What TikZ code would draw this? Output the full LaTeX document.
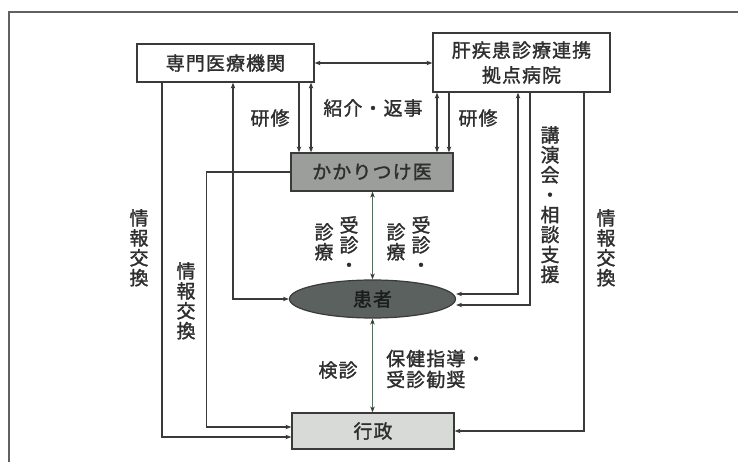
\documentclass[tikz,border=0pt]{standalone}
\usepackage{fontspec}
\setmainfont{Noto Sans CJK JP}[LetterSpace=6, FakeBold=1.5]
\usetikzlibrary{arrows.meta,shapes.geometric}
\definecolor{ink}{HTML}{3A3A3A}
\definecolor{txt}{HTML}{2E2E2E}
\definecolor{kakfill}{HTML}{9C9E9C}
\definecolor{kanfill}{HTML}{5A615E}
\definecolor{kantxt}{HTML}{1A1D1C}
\definecolor{gyofill}{HTML}{D8DAD8}
\definecolor{grn}{HTML}{3F7D55}
\tikzset{
  box/.style={draw=ink, line width=1.2bp, inner sep=0pt, text=txt, font=\fontsize{19}{25}\selectfont, align=center},
  lbl/.style={inner sep=0pt, text=txt, font=\fontsize{19}{20}\selectfont, align=center},
  vlbl/.style={inner sep=0pt, text=txt, font=\fontsize{19}{20}\selectfont, align=center, anchor=north},
  conn/.style={draw=ink, line width=1.1bp, -{Stealth[length=6bp,width=4.5bp]}},
  bconn/.style={draw=ink, line width=1.1bp, {Stealth[length=6bp,width=4.5bp]}-{Stealth[length=6bp,width=4.5bp]}},
  gconn/.style={draw=grn, line width=1.1bp, {Stealth[length=6bp,width=4.5bp,color=ink]}-{Stealth[length=6bp,width=4.5bp,color=ink]}}
}
\begin{document}
\begin{tikzpicture}[x=1bp,y=-1bp]
\useasboundingbox (0,0) rectangle (738,462);
\fill[white] (0,0) rectangle (738,462);
% frame
\draw[ink!80, line width=1.2bp] (9,462) -- (9,12) -- (738,12);

% nodes
\node[box, minimum width=177bp, minimum height=38bp] (senmon) at (225.5,63) {専門医療機関};
\node[box, minimum width=177bp, minimum height=59bp] (kyoten) at (521.5,62.5) {肝疾患診療連携\\拠点病院};
\node[box, fill=kakfill, minimum width=162bp, minimum height=38bp] (kakari) at (372,172) {かかりつけ医};
\node[ellipse, draw=ink, line width=1.2bp, fill=kanfill, inner sep=0pt,
      minimum width=166bp, minimum height=38bp] (kanja) at (372.5,299) {};
\node[lbl, text=kantxt] (kanjatxt) at (kanja.center) {患者};
\node[box, fill=gyofill, minimum width=162bp, minimum height=36bp] (gyosei) at (373,431) {行政};

% connectors
\draw[bconn] (senmon.east) -- (senmon.east -| kyoten.west);
\draw[conn] (299,0 |- senmon.south) -- (299,0 |- kakari.north);
\draw[bconn] (311,0 |- senmon.south) -- (311,0 |- kakari.north);
\draw[bconn] (437,0 |- kyoten.south) -- (437,0 |- kakari.north);
\draw[conn] (449,0 |- kyoten.south) -- (449,0 |- kakari.north);

\draw[conn] (162,0 |- senmon.south) |- ([yshift=-6bp]gyosei.west);
\draw[conn] (kakari.west) -| ([xshift=-85bp,yshift=4bp]gyosei.west) -- ([yshift=4bp]gyosei.west);
\draw[bconn] (233,0 |- senmon.south) |- (kanja.west);

\draw[bconn] (518,0 |- kyoten.south) |- ([yshift=5bp]kanja.east);
\draw[conn] (530,0 |- kyoten.south) |- ([yshift=-6bp]kanja.east);
\draw[conn] (584,0 |- kyoten.south) |- (gyosei.east);

\draw[gconn] (kakari.south -| kanja.north) -- (kanja.north);
\draw[gconn] (kanja.south) -- (kanja.south |- gyosei.north);

% labels
\node[lbl] (l1) at (270,118) {研修};
\node[lbl] (l2) at (373,108) {紹介・返事};
\node[lbl] (l3) at (478,118) {研修};
\node[vlbl] (l4) at (550,126) {講\\演\\会\\・\\相\\談\\支\\援};
\node[vlbl] (l5) at (606,209) {情\\報\\交\\換};
\node[vlbl] (l6) at (139,209) {情\\報\\交\\換};
\node[vlbl] (l7) at (186,262) {情\\報\\交\\換};
\node[vlbl] (l8a) at (349,216) {受\\診\\・};
\node[vlbl] (l8b) at (324,223) {診\\療};
\node[vlbl] (l9a) at (421,216) {受\\診\\・};
\node[vlbl] (l9b) at (396,223) {診\\療};
\node[lbl] (l10) at (338,370) {検診};
\node[lbl, anchor=west, align=left, font=\fontsize{19}{21}\selectfont] (l11) at (386,369) {保健指導・\\受診勧奨};
\end{tikzpicture}
\end{document}
